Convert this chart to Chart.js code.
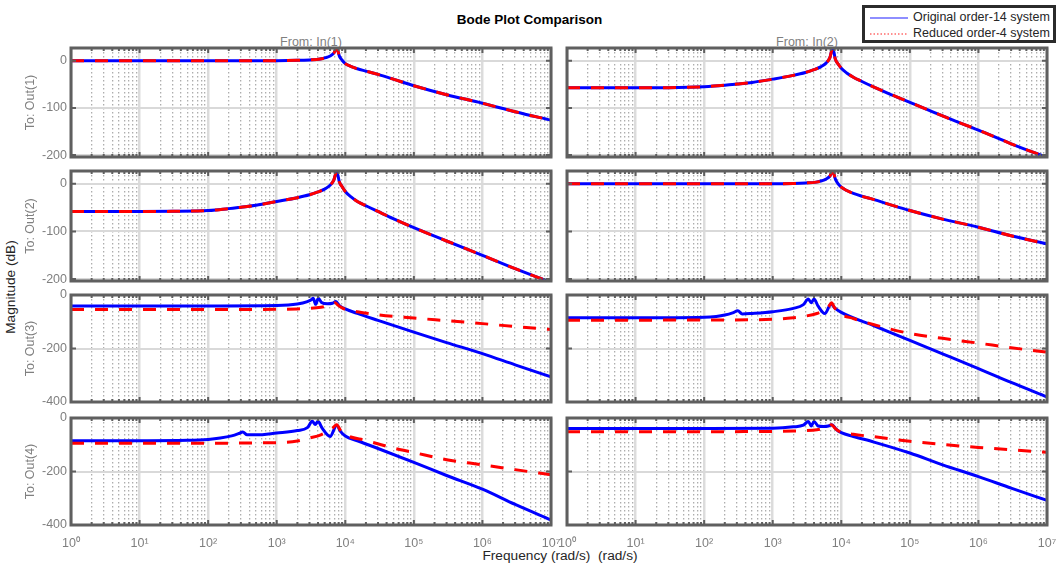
<!DOCTYPE html>
<html>
<head>
<meta charset="utf-8">
<script src="https://cdn.jsdelivr.net/npm/chart.js@4.4.1/dist/chart.umd.min.js"></script>
<style>
  body { margin: 0; background: #fff; }
  #fig { position: relative; width: 1059px; height: 569px; overflow: hidden; background: #fff;
         font-family: "Liberation Sans", Arial, Helvetica, sans-serif; }
  #fig canvas { position: absolute; }
  .txt { position: absolute; white-space: pre; text-align: center; line-height: 16px; }
  #title { left: 0; width: 1059px; top: 12px; font-size: 13.5px; font-weight: bold; color: #000; }
  .from { top: 34px; width: 200px; font-size: 12.5px; color: #7f7f7f; }
  #ylab { left: -89px; top: 279px; width: 200px; font-size: 13.7px; color: #262626; transform: rotate(-90deg); }
  #xlab { left: 360px; width: 400px; top: 548px; font-size: 13.7px; color: #262626; }
  #legend { position: absolute; left: 862px; top: 5px; width: 194px; height: 38px; box-sizing: border-box;
            border: 3px solid #2b2b2b; background: #fff; font-size: 12.5px; color: #262626; }
  .lrow { position: absolute; left: 5px; height: 15px; line-height: 15px; white-space: nowrap; }
  .lrow svg { position: absolute; left: 0; top: 0; }
  .lrow .lab { position: absolute; left: 43px; top: 0; }
</style>
</head>
<body>
<div id="fig">
  <div class="txt" id="title"></div>
  <div class="txt from" id="from0" style="left:211px"></div>
  <div class="txt from" id="from1" style="left:707px"></div>
  <div class="txt" id="ylab"></div>
  <div class="txt" id="xlab"></div>
  <div id="legend">
    <div class="lrow" style="top:2px">
      <svg width="38" height="15"><line x1="0" y1="8" x2="38" y2="8" stroke="#1f1fff" stroke-width="1.2"/></svg>
      <span class="lab" id="leg0"></span>
    </div>
    <div class="lrow" style="top:18px">
      <svg width="38" height="15"><line x1="0" y1="8" x2="38" y2="8" stroke="#ff2020" stroke-width="1.2" stroke-dasharray="1.5 2"/></svg>
      <span class="lab" id="leg1"></span>
    </div>
  </div>
</div>
<script>
const titleText = "Bode Plot Comparison";
const xLabelText = "Frequency (rad/s)  (rad/s)";
const yLabelText = "Magnitude (dB)";
const inputNames = ["From: In(1)", "From: In(2)"];
const outputNames = ["To: Out(1)", "To: Out(2)", "To: Out(3)", "To: Out(4)"];
const legendLabels = ["Original order-14 system", "Reduced order-4 system"];

const decadeTicks = [1, 10, 100, 1000, 1e4, 1e5, 1e6, 1e7];
const decadeLabels = ["10⁰", "10¹", "10²", "10³", "10⁴", "10⁵", "10⁶", "10⁷"];
const magTicksSmall = [-200, -100, 0];
const magTicksLarge = [-400, -200, 0];

// Out(1) <- In(1): both models lie on top of each other
const w11 = [1, 10, 100, 1000, 2000, 3000, 4300, 5200, 6000, 6800, 7500, 8200, 9000, 10000, 12000, 15000, 20000, 30000, 50000, 1e5, 3e5, 1e6, 3e6, 1e7];
const orig11 = [0, 0, 0, 0.2, 0.8, 1.8, 3.6, 6.5, 10, 16, 27, 10, 1, -6, -12, -17, -22, -29, -39, -53, -72, -90, -108, -126];
const red11 = orig11;

// Out(1) <- In(2)
const w12 = [1, 10, 30, 100, 200, 300, 500, 1000, 2000, 3000, 4000, 5000, 6000, 6800, 7500, 8200, 9000, 10000, 12000, 15000, 20000, 30000, 50000, 1e5, 3e5, 1e6, 3e6, 1e7];
const orig12 = [-57.5, -57.3, -57, -55, -52, -49.5, -46, -39, -31, -25, -19, -13, -5, 6, 27, 3, -7, -16, -26, -35, -44, -56, -70, -88, -117, -147, -176, -205];
const red12 = orig12;

// Out(2) <- In(1)
const w21 = [1, 10, 30, 100, 200, 300, 500, 1000, 2000, 3000, 4000, 5000, 6000, 6800, 7500, 8200, 9000, 10000, 12000, 15000, 20000, 30000, 50000, 1e5, 3e5, 1e6, 3e6, 1e7];
const orig21 = [-58, -58, -57.7, -56, -52, -49, -45, -37, -29, -23, -17, -11, -3, 8, 26, 4, -6, -16, -27, -37, -46, -58, -73, -92, -120, -150, -178, -207];
const red21 = orig21;

// Out(2) <- In(2)
const w22 = [1, 10, 100, 1000, 2000, 3000, 4300, 5200, 6000, 6800, 7500, 8200, 9000, 10000, 12000, 15000, 20000, 30000, 50000, 1e5, 3e5, 1e6, 3e6, 1e7];
const orig22 = [0, 0, 0, 0.2, 0.8, 1.8, 3.6, 6.5, 10, 16, 27, 10, 0, -7, -14, -20, -26, -33, -43, -56, -74, -91, -109, -126];
const red22 = orig22;

// Out(3) <- In(1)
const w31 = [1, 10, 100, 1000, 2000, 2800, 3200, 3400, 3700, 4050, 4500, 5500, 6500, 7300, 8200, 10000, 15000, 30000, 1e5, 3e5, 1e6, 3e6, 1e7];
const orig31 = [-41, -41, -41, -39.5, -34, -25, -18, -12, -35, -12, -28, -33, -31, -24, -40, -52, -69, -95, -139, -178, -219, -261, -306];
const w31r = [1, 10, 100, 1000, 2000, 3000, 4400, 5500, 6500, 7100, 7800, 9000, 10000, 15000, 30000, 1e5, 3e5, 1e6, 3e6, 1e7];
const red31 = [-54, -54, -54, -53.5, -52, -50, -46, -41, -35, -29, -38, -48, -54, -63, -74, -86, -96, -107, -118, -129];

// Out(3) <- In(2)
const w32 = [1, 10, 100, 150, 200, 260, 310, 360, 500, 1000, 2000, 2800, 3300, 3650, 4000, 4600, 5750, 7100, 8000, 10000, 30000, 1e5, 3e5, 1e6, 3e6, 1e7];
const orig32 = [-85, -85, -83, -80, -75, -67, -59, -71, -69, -62.5, -50, -36, -15, -29, -15, -42, -69, -34, -48, -65, -115, -170, -220, -275, -327, -381];
const w32r = [1, 10, 100, 1000, 2000, 3000, 4400, 5500, 6500, 7200, 8000, 9500, 15000, 30000, 1e5, 3e5, 1e6, 3e6, 1e7];
const red32 = [-94, -94, -93.5, -91, -85, -79, -69, -58, -44, -29, -48, -69, -88, -111, -144, -162, -180, -197, -214];

// Out(4) <- In(1)
const w41 = [1, 10, 50, 100, 150, 220, 280, 320, 370, 500, 1000, 2000, 2800, 3300, 3650, 4000, 4600, 6000, 7500, 8500, 10000, 15000, 30000, 1e5, 3e5, 1e6, 3e6, 1e7];
const orig41 = [-85, -85, -83.5, -80, -75, -67, -58, -52, -63, -63, -56, -47, -36, -12.5, -24, -12.5, -38, -69, -27, -50, -67, -85, -114, -166, -215, -266, -323, -381];
const w41r = [1, 10, 100, 1000, 2000, 3000, 4400, 5500, 6500, 7500, 8500, 10000, 20000, 50000, 1e5, 3e5, 1e6, 3e6, 1e7];
const red41 = [-94, -94, -94, -92, -86, -75, -63, -50, -38, -25, -46, -62, -84, -112, -129, -156, -175, -193, -212];

// Out(4) <- In(2)
const w42 = [1, 10, 100, 1000, 2000, 2800, 3300, 3650, 4000, 4600, 5500, 6500, 7300, 8500, 10000, 15000, 30000, 1e5, 3e5, 1e6, 3e6, 1e7];
const orig42 = [-39, -39, -39, -38, -33, -27, -12.7, -30, -12.7, -30, -32, -30, -25, -43, -55, -69, -90, -131, -175, -219, -262, -308];
const w42r = [1, 10, 100, 1000, 2000, 3000, 4400, 5500, 6500, 7200, 8200, 9500, 15000, 30000, 1e5, 3e5, 1e6, 3e6, 1e7];
const red42 = [-51, -51, -51, -50.5, -49, -47.5, -44, -39, -33, -25, -40, -51, -61, -70, -87, -99, -110, -119, -128];

const panels = [
  [[w11, orig11, w11, red11], [w12, orig12, w12, red12]],
  [[w21, orig21, w21, red21], [w22, orig22, w22, red22]],
  [[w31, orig31, w31r, red31], [w32, orig32, w32r, red32]],
  [[w41, orig41, w41r, red41], [w42, orig42, w42r, red42]],
];

const colBox = [
  { x: 71, axisW: 71, left: 0 },
  { x: 567, axisW: 12, left: 555 },
];
const rowBox = [
  { y: 48, h: 109, yMin: -204, yMax: 27, ticks: magTicksSmall },
  { y: 171, h: 110, yMin: -204, yMax: 27, ticks: magTicksSmall },
  { y: 295, h: 107, yMin: -400, yMax: 0, ticks: magTicksLarge },
  { y: 418, h: 107, yMin: -400, yMax: 0, ticks: magTicksLarge },
];
const areaW = 480;
const padTop = 10;
const padRight = 12;

function logTicks() {
  let out = [];
  decadeTicks.forEach((d, i) => {
    if (i === decadeTicks.length - 1) {
      out.push(d);
      return;
    }
    for (let m = 1; m < 10; m++) out.push(d * m);
  });
  return out;
}

function isDecade(ctx) {
  return ctx.tick && decadeTicks.includes(ctx.tick.value);
}

const framePlugin = {
  id: "frame",
  afterDraw(chart) {
    const { ctx, chartArea: a, scales } = chart;
    ctx.save();
    ctx.strokeStyle = "#5f5f5f";
    ctx.lineWidth = 2;
    ctx.beginPath();
    scales.x.ticks.forEach((t) => {
      const px = scales.x.getPixelForValue(t.value);
      const len = decadeTicks.includes(t.value) ? 5 : 3;
      ctx.moveTo(px, a.top);
      ctx.lineTo(px, a.top + len);
      ctx.moveTo(px, a.bottom);
      ctx.lineTo(px, a.bottom - len);
    });
    scales.y.ticks.forEach((t) => {
      const py = scales.y.getPixelForValue(t.value);
      ctx.moveTo(a.left, py);
      ctx.lineTo(a.left + 5, py);
      ctx.moveTo(a.right, py);
      ctx.lineTo(a.right - 5, py);
    });
    ctx.stroke();
    ctx.lineWidth = 3;
    ctx.strokeRect(a.left, a.top, a.right - a.left, a.bottom - a.top);
    ctx.restore();
  },
};

function drawPanel(row, col) {
  const [wO, magO, wR, magR] = panels[row][col];
  const c = colBox[col];
  const r = rowBox[row];
  const botH = row === 3 ? 40 : 10;
  const width = c.axisW + areaW + padRight;
  const height = padTop + r.h + botH;

  const canvas = document.createElement("canvas");
  canvas.width = width;
  canvas.height = height;
  canvas.style.left = c.left + "px";
  canvas.style.top = r.y - padTop + "px";
  canvas.style.width = width + "px";
  canvas.style.height = height + "px";
  document.getElementById("fig").appendChild(canvas);

  new Chart(canvas.getContext("2d"), {
    type: "line",
    data: {
      datasets: [
        {
          label: legendLabels[1],
          data: magR.map((v, i) => ({ x: wR[i], y: v })),
          borderColor: "#ff0000",
          borderWidth: 3,
          borderDash: [13, 11],
          pointRadius: 0,
          fill: false,
          cubicInterpolationMode: "monotone",
          order: 0,
        },
        {
          label: legendLabels[0],
          data: magO.map((v, i) => ({ x: wO[i], y: v })),
          borderColor: "#0000ff",
          borderWidth: 3,
          pointRadius: 0,
          fill: false,
          cubicInterpolationMode: "monotone",
          order: 1,
        },
      ],
    },
    options: {
      responsive: false,
      animation: false,
      devicePixelRatio: 1,
      layout: { padding: { top: padTop, right: padRight, left: 0, bottom: 0 } },
      plugins: {
        legend: { display: false },
        tooltip: { enabled: false },
      },
      scales: {
        x: {
          type: "logarithmic",
          min: 1,
          max: 1e7,
          afterBuildTicks: (axis) => {
            axis.ticks = logTicks().map((v) => ({ value: v }));
          },
          afterFit: (axis) => {
            axis.height = botH;
            axis.paddingLeft = 0;
            axis.paddingRight = 0;
          },
          grid: {
            drawTicks: false,
            color: (ctx) => (isDecade(ctx) ? "#dcdcdc" : "#adadad"),
            lineWidth: (ctx) => (isDecade(ctx) ? 2.5 : 1.3),
          },
          border: {
            display: false,
            dash: (ctx) => (isDecade(ctx) ? [] : [1.5, 2.5]),
          },
          ticks: {
            display: row === 3,
            autoSkip: false,
            maxRotation: 0,
            minRotation: 0,
            padding: 11,
            color: "#7f7f7f",
            font: { size: 12.5 },
            callback: (value) => {
              const i = decadeTicks.indexOf(value);
              return i >= 0 ? decadeLabels[i] : "";
            },
          },
        },
        y: {
          type: "linear",
          min: r.yMin,
          max: r.yMax,
          afterBuildTicks: (axis) => {
            axis.ticks = r.ticks.map((v) => ({ value: v }));
          },
          afterFit: (axis) => {
            axis.width = c.axisW;
            axis.paddingTop = 0;
            axis.paddingBottom = 0;
          },
          grid: {
            drawTicks: false,
            color: "#d9d9d9",
            lineWidth: 2,
          },
          border: { display: false },
          ticks: {
            display: col === 0,
            padding: 4,
            color: "#7f7f7f",
            font: { size: 12.5 },
          },
          title: {
            display: col === 0,
            text: outputNames[row],
            color: "#7f7f7f",
            font: { size: 12.5 },
            padding: { top: 23, bottom: 0 },
          },
        },
      },
    },
    plugins: [framePlugin],
  });
}

document.addEventListener("DOMContentLoaded", () => {
  Chart.defaults.font.family = '"Liberation Sans", Arial, Helvetica, sans-serif';
  document.getElementById("title").textContent = titleText;
  document.getElementById("from0").textContent = inputNames[0];
  document.getElementById("from1").textContent = inputNames[1];
  document.getElementById("ylab").textContent = yLabelText;
  document.getElementById("xlab").textContent = xLabelText;
  document.getElementById("leg0").textContent = legendLabels[0];
  document.getElementById("leg1").textContent = legendLabels[1];

  for (let row = 0; row < 4; row++) {
    for (let col = 0; col < 2; col++) {
      drawPanel(row, col);
    }
  }
});
</script>
</body>
</html>
